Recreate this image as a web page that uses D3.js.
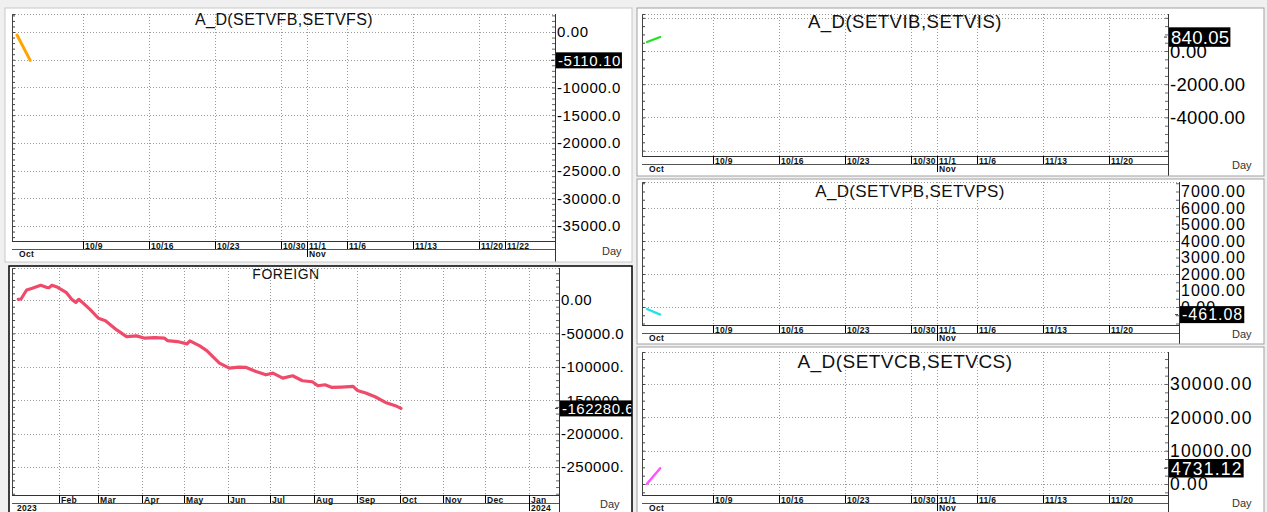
<!DOCTYPE html>
<html>
<head>
<meta charset="utf-8">
<script src="https://cdn.jsdelivr.net/npm/d3@7"></script>
<style>
  body { margin: 0; background: #f0f0f0; }
  svg { display: block; font-family: "Liberation Sans", Arial, sans-serif; }
</style>
</head>
<body>
<div class="canvas"></div>
<script>
// ---- data ----
// A_D panels: trading-day index counted from 10/2
const adDays = [0, 1];
const vfValues = [-540, -5110.10];
const viValues = [540, 840.05];
const vpValues = [-120, -461.08];
const vcValues = [60, 4731.12];

const adTickDays = [5, 10, 15, 20, 22, 25, 30, 35, 37];
const adTickLabels = ['10/9', '10/16', '10/23', '10/30', '11/1', '11/6', '11/13', '11/20', '11/22'];
const adMonthDays = [0, 22];
const adMonthLabels = ['Oct', 'Nov'];

const vfGrid = [0, -5000, -10000, -15000, -20000, -25000, -30000, -35000];
const vfLabelValues = [0, -5000, -10000, -15000, -20000, -25000, -30000, -35000];
const vfLabels = ['0.00', '-5000.00', '-10000.0', '-15000.0', '-20000.0', '-25000.0', '-30000.0', '-35000.0'];

const viGrid = [2000, 0, -2000, -4000, -6000];
const viLabelValues = [0, -2000, -4000];
const viLabels = ['0.00', '-2000.00', '-4000.00'];

const vpGrid = [0, 2000, 4000, 6000];
const vpLabelValues = [0, 1000, 2000, 3000, 4000, 5000, 6000, 7000];
const vpLabels = ['0.00', '1000.00', '2000.00', '3000.00', '4000.00', '5000.00', '6000.00', '7000.00'];

const vcGrid = [0, 10000, 20000, 30000];
const vcLabelValues = [0, 10000, 20000, 30000];
const vcLabels = ['0.00', '10000.00', '20000.00', '30000.00'];

// FOREIGN panel
const foreignDates = ['2023-01-03', '2023-01-05', '2023-01-09', '2023-01-13', '2023-01-19', '2023-01-23',
  '2023-01-25', '2023-01-27', '2023-01-31', '2023-02-06', '2023-02-10', '2023-02-13', '2023-02-15',
  '2023-02-17', '2023-02-23', '2023-03-01', '2023-03-06', '2023-03-14', '2023-03-21', '2023-03-28',
  '2023-04-03', '2023-04-10', '2023-04-17', '2023-04-19', '2023-04-26', '2023-05-03', '2023-05-05',
  '2023-05-12', '2023-05-17', '2023-05-26', '2023-06-02', '2023-06-09', '2023-06-14', '2023-06-21',
  '2023-06-28', '2023-07-03', '2023-07-10', '2023-07-17', '2023-07-24', '2023-07-31', '2023-08-04',
  '2023-08-09', '2023-08-14', '2023-08-21', '2023-08-29', '2023-09-01', '2023-09-07', '2023-09-14',
  '2023-09-21', '2023-09-28', '2023-10-02'];
const foreignValues = [1000, 1500, 15000, 17500, 22000, 19000,
  18500, 22000, 19000, 11500, 1000, -3500, 1000,
  -2500, -14000, -27300, -31000, -44800, -54800, -53700,
  -57200, -56200, -57200, -60700, -62200, -65700, -61200,
  -68700, -75700, -94500, -102000, -100500, -101000, -107000,
  -112000, -109400, -116900, -113400, -120900, -122400, -128400,
  -126900, -130900, -130300, -129400, -135400, -139300, -145200,
  -153300, -158200, -162280.6];

const foreignTickDates = ['2023-02-01', '2023-03-01', '2023-04-01', '2023-05-01', '2023-06-01', '2023-07-01',
  '2023-08-01', '2023-09-01', '2023-10-01', '2023-11-01', '2023-12-01', '2024-01-01'];
const foreignTickLabels = ['Feb', 'Mar', 'Apr', 'May', 'Jun', 'Jul', 'Aug', 'Sep', 'Oct', 'Nov', 'Dec', 'Jan'];
const foreignYearDates = ['2023-01-01', '2024-01-01'];
const foreignYearLabels = ['2023', '2024'];

const foreignGrid = [0, -50000, -100000, -150000, -200000, -250000];
const foreignLabels = ['0.00', '-50000.0', '-100000.', '-150000.', '-200000.', '-250000.'];

// ---- drawing ----
const svg = d3.select('.canvas')
  .append('svg')
    .attr('width', 1267)
    .attr('height', 512);

svg.append('rect').attr('width', 1267).attr('height', 512).attr('fill', '#f0f0f0');

const parse = d3.timeParse('%Y-%m-%d');
const pxPerDay = 13.2;

// x scale for the A_D panels (trading-day index)
const dayScale = w => d3.scaleLinear()
  .domain([-5 / pxPerDay, (w - 5) / pxPerDay])
  .range([0, w]);

// x scale for FOREIGN (calendar)
const timeScale = w => d3.scaleTime()
  .domain([parse('2023-01-01'), parse('2024-01-01')])
  .range([3.4, 517]);

let clipId = 0;

function drawPanel(p) {
  const [fx0, fy0, fx1, fy1] = p.frame;
  const id = 'clip' + (clipId++);
  svg.append('clipPath').attr('id', id)
    .append('rect')
      .attr('x', fx0).attr('y', fy0)
      .attr('width', fx1 - fx0).attr('height', fy1 - fy0);

  const panel = svg.append('g').attr('clip-path', `url(#${id})`);

  panel.append('rect')
    .attr('x', fx0).attr('y', fy0)
    .attr('width', fx1 - fx0).attr('height', fy1 - fy0)
    .attr('fill', '#fff');

  const [px0, py0, px1, py1] = p.plot;
  const w = px1 - px0, h = py1 - py0;
  const g = panel.append('g').attr('transform', `translate(${px0}, ${py0})`);

  const x = p.xScale(w);
  const y = d3.scaleLinear().domain(p.yDomain).range([h, 0]);

  // dotted grid
  g.selectAll('.hgrid')
    .data(p.grid)
    .join('line')
      .attr('x1', 0).attr('x2', w)
      .attr('y1', d => Math.round(y(d)) + 0.5)
      .attr('y2', d => Math.round(y(d)) + 0.5)
      .attr('stroke', '#9a9a9a')
      .attr('stroke-dasharray', '1,2');

  g.append('line')
    .attr('x1', 0).attr('x2', w)
    .attr('y1', 0.5).attr('y2', 0.5)
    .attr('stroke', '#9a9a9a')
    .attr('stroke-dasharray', '1,2');

  g.selectAll('.vgrid')
    .data(p.ticks)
    .join('line')
      .attr('x1', d => Math.round(x(d)) + 0.5)
      .attr('x2', d => Math.round(x(d)) + 0.5)
      .attr('y1', 0).attr('y2', h)
      .attr('stroke', '#9a9a9a')
      .attr('stroke-dasharray', '1,2');

  const minorTicks = d3.range(p.yDomain[0] - p.yDomain[0] % p.minor, p.yDomain[1], p.minor);

  // left ruler
  const ruler = g.append('g').call(
    d3.axisRight(y).tickValues(minorTicks).tickSize(3).tickFormat('')
  );
  ruler.select('.domain').attr('stroke', '#444');
  ruler.selectAll('.tick line').attr('stroke', '#444');

  // right axis
  const rightAxis = g.append('g')
    .attr('transform', `translate(${w}, 0)`)
    .call(d3.axisLeft(y).tickValues(minorTicks).tickSize(3).tickFormat(''));
  rightAxis.select('.domain').remove();
  rightAxis.selectAll('.tick line').attr('stroke', '#666');
  g.append('line')
    .attr('x1', w + 0.5).attr('x2', w + 0.5)
    .attr('y1', 0).attr('y2', fy1 - py0)
    .attr('stroke', '#333');

  // series
  const line = d3.line()
    .x(d => x(d.x))
    .y(d => y(d.v));
  g.append('path')
    .datum(p.series)
    .attr('d', line)
    .attr('fill', 'none')
    .attr('stroke', p.color)
    .attr('stroke-width', p.lineWidth)
    .attr('stroke-linejoin', 'round')
    .attr('stroke-linecap', 'round');

  // value labels
  g.selectAll('.ylab')
    .data(p.labelValues)
    .join('text')
      .attr('x', w + 2)
      .attr('y', d => y(d))
      .attr('dy', '0.36em')
      .attr('font-size', p.labelSize)
      .attr('letter-spacing', p.labelSpacing)
      .attr('fill', '#000')
      .text((d, i) => p.labels[i]);

  // last value badge
  const last = p.series[p.series.length - 1];
  const by = y(last.v);
  const badge = g.append('g');
  const bt = badge.append('text')
    .attr('x', w + 3)
    .attr('y', by)
    .attr('dy', '0.36em')
    .attr('font-size', p.labelSize)
    .attr('letter-spacing', p.labelSpacing)
    .attr('fill', '#fff')
    .text(p.badge);
  const bb = bt.node().getBBox();
  badge.insert('rect', 'text')
    .attr('x', w + 1).attr('y', by - p.labelSize / 2 - 0.5)
    .attr('width', bb.width + 3).attr('height', p.labelSize + 1)
    .attr('fill', '#000');
  g.append('line')
    .attr('x1', w - 4).attr('x2', w - 1)
    .attr('y1', by).attr('y2', by)
    .attr('stroke', '#333');

  // bottom time strip
  g.append('line')
    .attr('x1', 0).attr('x2', w)
    .attr('y1', h + 0.5).attr('y2', h + 0.5)
    .attr('stroke', '#333');
  g.append('line')
    .attr('x1', 0).attr('x2', w)
    .attr('y1', h + 8.5).attr('y2', h + 8.5)
    .attr('stroke', '#555');

  g.selectAll('.tbar')
    .data(p.ticks)
    .join('line')
      .attr('x1', d => Math.round(x(d)) + 0.5)
      .attr('x2', d => Math.round(x(d)) + 0.5)
      .attr('y1', h).attr('y2', h + 8)
      .attr('stroke', '#000');
  g.selectAll('.tlab')
    .data(p.ticks)
    .join('text')
      .attr('x', d => Math.round(x(d)) + 2)
      .attr('y', h + 7.5)
      .attr('font-size', 8.5)
      .attr('font-weight', 'bold')
      .attr('letter-spacing', 0.3)
      .attr('fill', '#111')
      .text((d, i) => p.tickLabels[i]);

  g.selectAll('.mbar')
    .data(p.months.slice(1))
    .join('line')
      .attr('x1', d => Math.round(x(d)) + 0.5)
      .attr('x2', d => Math.round(x(d)) + 0.5)
      .attr('y1', h + 8).attr('y2', h + 16)
      .attr('stroke', '#000');
  g.selectAll('.mlab')
    .data(p.months)
    .join('text')
      .attr('x', d => Math.round(x(d)) + 2)
      .attr('y', h + 15.5)
      .attr('font-size', 8.5)
      .attr('font-weight', 'bold')
      .attr('letter-spacing', 0.3)
      .attr('fill', '#111')
      .text((d, i) => p.monthLabels[i]);

  // "Day"
  panel.append('text')
    .attr('x', p.dayPos[0]).attr('y', p.dayPos[1])
    .attr('font-size', 11)
    .attr('fill', '#333')
    .text('Day');

  // title
  panel.append('text')
    .attr('x', p.titlePos[0]).attr('y', p.titlePos[1])
    .attr('text-anchor', 'middle')
    .attr('font-size', p.titleSize)
    .attr('letter-spacing', p.titleSpacing)
    .attr('fill', '#111')
    .text(p.title);

  // frame on top
  svg.append('rect')
    .attr('x', fx0).attr('y', fy0)
    .attr('width', fx1 - fx0).attr('height', fy1 - fy0)
    .attr('fill', 'none')
    .attr('stroke', p.frameColor)
    .attr('stroke-width', p.frameWidth);
}

const adSeries = vals => adDays.map((d, i) => ({ x: d, v: vals[i] }));
const rightTicks = adTickDays.slice(0, 8);
const rightTickLabels = adTickLabels.slice(0, 8);

drawPanel({
  frame: [5, 8, 632, 262], frameColor: '#c8c8c8', frameWidth: 1,
  plot: [12, 14, 555, 241],
  xScale: dayScale, yDomain: [-37700, 3250], minor: 1000,
  grid: vfGrid, labelValues: vfLabelValues, labels: vfLabels, labelSize: 15, labelSpacing: 0.6,
  ticks: adTickDays, tickLabels: adTickLabels, months: adMonthDays, monthLabels: adMonthLabels,
  series: adSeries(vfValues), color: '#ffa500', lineWidth: 3, badge: '-5110.10',
  title: 'A_D(SETVFB,SETVFS)', titlePos: [284, 25], titleSize: 16, titleSpacing: 0.4, dayPos: [602, 255]
});

drawPanel({
  frame: [9, 266, 632, 516], frameColor: '#000', frameWidth: 1.5,
  plot: [12, 268, 559, 495],
  xScale: timeScale, yDomain: [-291900, 47900], minor: 10000,
  grid: foreignGrid, labelValues: foreignGrid, labels: foreignLabels, labelSize: 15, labelSpacing: 0.5,
  ticks: foreignTickDates.map(parse), tickLabels: foreignTickLabels,
  months: foreignYearDates.map(parse), monthLabels: foreignYearLabels,
  series: foreignDates.map((d, i) => ({ x: parse(d), v: foreignValues[i] })),
  color: '#f04a6a', lineWidth: 3.2, badge: '-162280.6',
  title: 'FOREIGN', titlePos: [286, 279], titleSize: 14, titleSpacing: 0.5, dayPos: [600, 508]
});

drawPanel({
  frame: [637, 8, 1264, 176], frameColor: '#a0a0a0', frameWidth: 1,
  plot: [642, 14, 1168, 156],
  xScale: dayScale, yDomain: [-6325, 2230], minor: 500,
  grid: viGrid, labelValues: viLabelValues, labels: viLabels, labelSize: 18.5, labelSpacing: 0.3,
  ticks: rightTicks, tickLabels: rightTickLabels, months: adMonthDays, monthLabels: adMonthLabels,
  series: adSeries(viValues), color: '#22e022', lineWidth: 2.2, badge: '840.05',
  title: 'A_D(SETVIB,SETVIS)', titlePos: [905, 28], titleSize: 18.5, titleSpacing: 0.5, dayPos: [1232, 169]
});

drawPanel({
  frame: [637, 179, 1264, 344], frameColor: '#a0a0a0', frameWidth: 1,
  plot: [642, 182, 1179, 325],
  xScale: dayScale, yDomain: [-1090, 7575], minor: 500,
  grid: vpGrid, labelValues: vpLabelValues, labels: vpLabels, labelSize: 16, labelSpacing: 1,
  ticks: rightTicks, tickLabels: rightTickLabels, months: adMonthDays, monthLabels: adMonthLabels,
  series: adSeries(vpValues), color: '#22e0e8', lineWidth: 2.2, badge: '-461.08',
  title: 'A_D(SETVPB,SETVPS)', titlePos: [910, 197], titleSize: 17, titleSpacing: 0.35, dayPos: [1232, 338]
});

drawPanel({
  frame: [637, 347, 1264, 516], frameColor: '#a0a0a0', frameWidth: 1,
  plot: [642, 352, 1168, 495],
  xScale: dayScale, yDomain: [-3300, 39600], minor: 2500,
  grid: vcGrid, labelValues: vcLabelValues, labels: vcLabels, labelSize: 17.5, labelSpacing: 1.2,
  ticks: rightTicks, tickLabels: rightTickLabels, months: adMonthDays, monthLabels: adMonthLabels,
  series: adSeries(vcValues), color: '#ff55ff', lineWidth: 2.5, badge: '4731.12',
  title: 'A_D(SETVCB,SETVCS)', titlePos: [905, 368], titleSize: 19, titleSpacing: 0.45, dayPos: [1232, 507]
});
</script>
</body>
</html>
